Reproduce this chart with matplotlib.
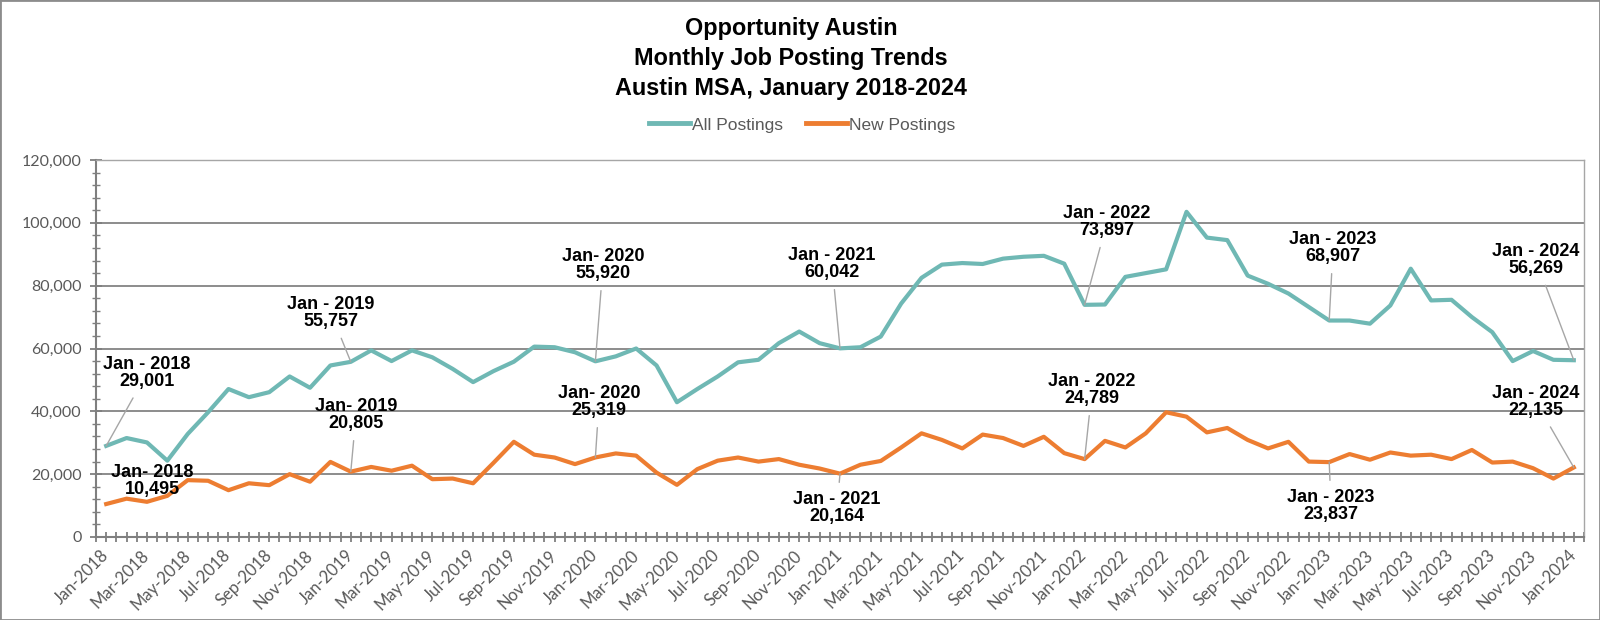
import numpy as np
import pandas as pd
import matplotlib
matplotlib.use("Agg")
import matplotlib.pyplot as plt
from matplotlib.ticker import FixedLocator, MultipleLocator, FuncFormatter
from matplotlib.patches import Rectangle

# ---------------- data ----------------
months = pd.date_range("2018-01-01", "2024-01-01", freq="MS")

all_postings = [
    29001, 31500, 30100, 24300, 32800, 39700, 47100, 44500, 46100, 51100, 47500, 54600,
    55757, 59400, 56000, 59400, 57200, 53500, 49300, 52800, 55800, 60600, 60400, 58800,
    55920, 57500, 60000, 54600, 42900, 47100, 51100, 55600, 56400, 61700, 65400, 61700,
    60042, 60400, 63800, 74300, 82500, 86700, 87200, 86900, 88600, 89200, 89500, 87000,
    73897, 74000, 82800, 84000, 85200, 103500, 95300, 94500, 83200, 80600, 77500, 73200,
    68907, 68900, 67900, 73700, 85400, 75300, 75500, 70000, 65200, 56000, 59200, 56400,
    56269,
]
new_postings = [
    10495, 12200, 11200, 13100, 18100, 17900, 14900, 17100, 16500, 20000, 17600, 23900,
    20805, 22300, 21100, 22700, 18400, 18600, 17100, 23600, 30300, 26200, 25300, 23200,
    25319, 26600, 25900, 20500, 16600, 21600, 24300, 25300, 24000, 24800, 23000, 21800,
    20164, 23000, 24200, 28500, 33000, 30900, 28200, 32600, 31500, 29000, 31900, 26700,
    24789, 30600, 28500, 33000, 39700, 38300, 33300, 34700, 30900, 28200, 30300, 24000,
    23837, 26400, 24600, 26900, 25900, 26200, 24800, 27700, 23700, 24000, 21900, 18600,
    22135,
]

series_names = ["All Postings", "New Postings"]
title_lines = ["Opportunity Austin", "Monthly Job Posting Trends", "Austin MSA, January 2018-2024"]

# annotation labels (January of each year)
all_labels = ["Jan - 2018", "Jan - 2019", "Jan- 2020", "Jan - 2021", "Jan - 2022", "Jan - 2023", "Jan - 2024"]
new_labels = ["Jan- 2018", "Jan- 2019", "Jan- 2020", "Jan - 2021", "Jan - 2022", "Jan - 2023", "Jan - 2024"]

# label text centres (image pixel coords, layout only)
all_label_pos = [(147, 373), (331, 313), (603, 265), (832, 264), (1107, 222), (1333, 248), (1536, 260)]
new_label_pos = [(152, 481), (356, 415), (599, 402), (837, 508), (1092, 390), (1331, 506), (1536, 402)]
new_has_leader = [False, True, True, True, True, True, True]

# ---------------- style ----------------
W, H = 1600, 620
teal = "#6fb8b4"
orange = "#ed7d31"
grid_c = "#8c8c8c"
txt_gray = "#595959"
tick_c = "#7f7f7f"

fig = plt.figure(figsize=(W / 100, H / 100), dpi=100)
fig.patches.append(Rectangle((0, 0), 1, 1, transform=fig.transFigure, fill=False,
                             edgecolor="#8c8c8c", lw=2, zorder=10))

ax = fig.add_axes([96 / W, 1 - 537 / H, (1584 - 96) / W, (537 - 160) / H])
x = np.arange(len(months))

ax.plot(x, all_postings, color=teal, lw=3.0, zorder=3, label=series_names[0])
ax.plot(x, new_postings, color=orange, lw=3.0, zorder=3, label=series_names[1])

ax.set_xlim(-0.5, len(months) - 0.5)
ax.set_ylim(0, 120000)

# y axis
ax.yaxis.set_major_locator(MultipleLocator(20000))
ax.yaxis.set_minor_locator(MultipleLocator(4000))
ax.yaxis.set_major_formatter(FuncFormatter(lambda v, p: f"{int(v):,}"))
ax.grid(axis="y", which="major", color=grid_c, lw=1.4, zorder=1)
ax.set_axisbelow(True)

# x axis
major_idx = list(range(0, len(months), 2))
ax.xaxis.set_major_locator(FixedLocator(major_idx))
ax.xaxis.set_minor_locator(MultipleLocator(0.5))
ax.set_xticklabels([months[i].strftime("%b-%Y") for i in major_idx])

for lab in ax.get_xticklabels():
    lab.set_rotation(45)
    lab.set_rotation_mode("anchor")
    lab.set_ha("right")
    lab.set_va("center")
    lab.set_fontfamily("Lato")
    lab.set_fontsize(12)
    lab.set_color(txt_gray)
for lab in ax.get_yticklabels():
    lab.set_fontfamily("Lato")
    lab.set_fontsize(11.5)
    lab.set_color(txt_gray)

ax.tick_params(axis="x", which="both", direction="inout", length=7, width=1.3, color=tick_c, pad=8)
ax.tick_params(axis="y", which="major", direction="inout", length=9, width=1.3, color=tick_c, pad=6)
ax.tick_params(axis="y", which="minor", direction="inout", length=6, width=1.0, color=tick_c)

for s in ["left", "bottom"]:
    ax.spines[s].set_color(tick_c)
    ax.spines[s].set_linewidth(1.5)
for s in ["top", "right"]:
    ax.spines[s].set_color("#a6a6a6")
    ax.spines[s].set_linewidth(1.0)

# title
title_y = [28, 58, 88]
for t, yy in zip(title_lines, title_y):
    fig.text(791 / W, 1 - yy / H, t, ha="center", va="center",
             fontfamily="Liberation Sans", fontweight="bold", fontsize=16.8, color="black")

# legend
leg = fig.legend(loc="center", bbox_to_anchor=(802 / W, 1 - 125 / H), ncol=2, frameon=False,
                 prop={"family": "Liberation Sans", "size": 12.5}, handlelength=2.4,
                 handletextpad=0.1, columnspacing=1.3)
for ln in leg.get_lines():
    ln.set_linewidth(3.5)
for t in leg.get_texts():
    t.set_color(txt_gray)

# annotations
ann_font = dict(fontfamily="Liberation Sans", fontweight="bold", fontsize=13, color="black")
leader = dict(arrowstyle="-", color="#a6a6a6", lw=1.0, shrinkA=4, shrinkB=0)
for k, (lbl, pos) in enumerate(zip(all_labels, all_label_pos)):
    i = 12 * k
    v = all_postings[i]
    ax.annotate(f"{lbl}\n{v:,}", xy=(i, v), xytext=(pos[0], H - pos[1]), textcoords="figure pixels",
                ha="center", va="center", linespacing=1.05, arrowprops=leader, zorder=5, **ann_font)
for k, (lbl, pos) in enumerate(zip(new_labels, new_label_pos)):
    i = 12 * k
    v = new_postings[i]
    ax.annotate(f"{lbl}\n{v:,}", xy=(i, v), xytext=(pos[0], H - pos[1]), textcoords="figure pixels",
                ha="center", va="center", linespacing=1.05,
                arrowprops=leader if new_has_leader[k] else None, zorder=5, **ann_font)

fig.savefig("out.png", dpi=100)
